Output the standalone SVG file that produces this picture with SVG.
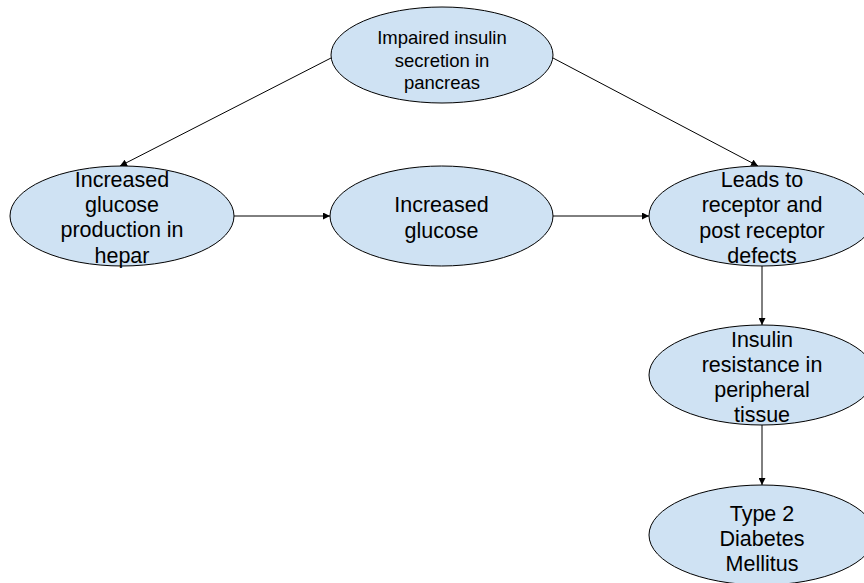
<svg xmlns="http://www.w3.org/2000/svg" width="864" height="583" viewBox="0 0 864 583">
<style>
.n{fill:#cfe2f3;stroke:#000;stroke-width:1}
.t{font-family:"Liberation Sans",Arial,sans-serif;font-size:21.5px;fill:#000;text-anchor:middle}
.s{font-size:18.5px}
.c{stroke:#000;stroke-width:1;fill:none;marker-end:url(#a)}
</style>
<defs>
<marker id="a" viewBox="0 0 10 10" refX="10" refY="5" markerWidth="7" markerHeight="7" markerUnits="userSpaceOnUse" orient="auto">
<path d="M0,0L10,5L0,10z" fill="#000"/>
</marker>
</defs>
<rect width="864" height="583" fill="#fff"/>
<g id="connectors">
<line class="c" x1="331" y1="58" x2="120" y2="166"/>
<line class="c" x1="553" y1="58" x2="758" y2="166"/>
<line class="c" x1="234" y1="216" x2="330" y2="216"/>
<line class="c" x1="553" y1="216" x2="649" y2="216"/>
<line class="c" x1="762" y1="266" x2="762" y2="325"/>
<line class="c" x1="762" y1="425" x2="762" y2="485"/>
</g>
<g id="n1"><ellipse class="n" cx="442" cy="55" rx="111" ry="48"/>
<text class="t s" x="442" y="44">Impaired insulin</text>
<text class="t s" x="442" y="67">secretion in</text>
<text class="t s" x="442" y="89">pancreas</text></g>
<g id="n2"><ellipse class="n" cx="122" cy="216" rx="112" ry="50"/>
<text class="t" x="122" y="187">Increased</text>
<text class="t" x="122" y="212">glucose</text>
<text class="t" x="122" y="237">production in</text>
<text class="t" x="122" y="263">hepar</text></g>
<g id="n3"><ellipse class="n" cx="441.5" cy="216" rx="111.5" ry="50"/>
<text class="t" x="441.5" y="212">Increased</text>
<text class="t" x="441.5" y="238">glucose</text></g>
<g id="n4"><ellipse class="n" cx="762" cy="216" rx="113" ry="50"/>
<text class="t" x="762" y="187">Leads to</text>
<text class="t" x="762" y="212">receptor and</text>
<text class="t" x="762" y="238">post receptor</text>
<text class="t" x="762" y="263">defects</text></g>
<g id="n5"><ellipse class="n" cx="762" cy="375" rx="113" ry="50"/>
<text class="t" x="762" y="347">Insulin</text>
<text class="t" x="762" y="372">resistance in</text>
<text class="t" x="762" y="397">peripheral</text>
<text class="t" x="762" y="422">tissue</text></g>
<g id="n6"><ellipse class="n" cx="762" cy="535" rx="113" ry="50"/>
<text class="t" x="762" y="521">Type 2</text>
<text class="t" x="762" y="546">Diabetes</text>
<text class="t" x="762" y="571">Mellitus</text></g>
</svg>
